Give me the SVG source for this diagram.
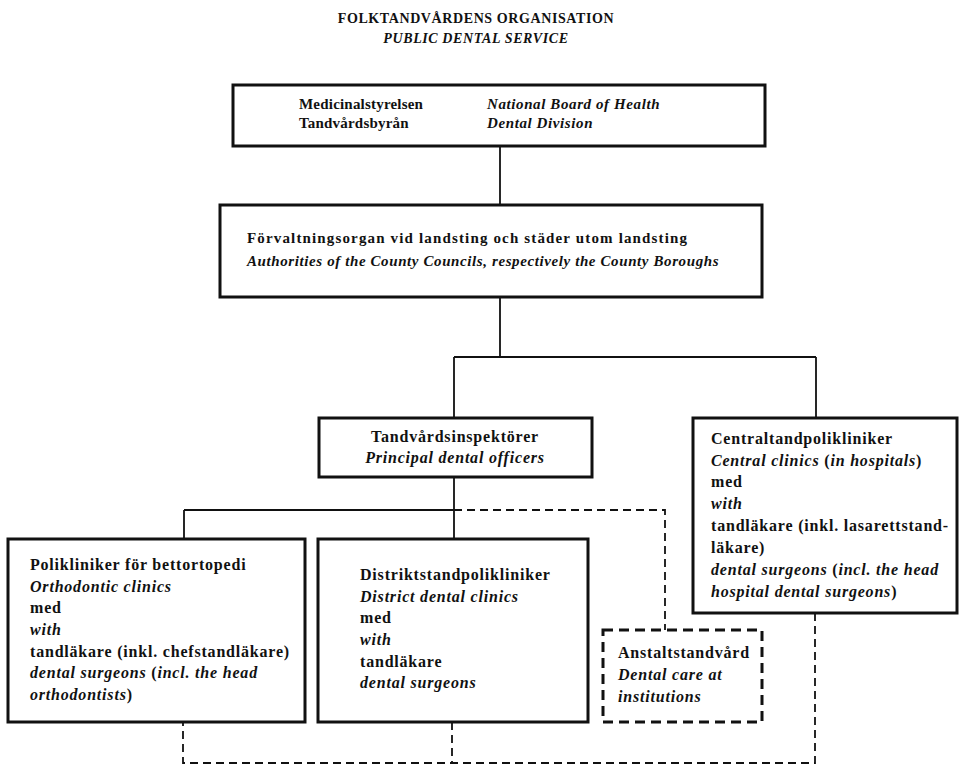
<svg xmlns="http://www.w3.org/2000/svg" width="959" height="767" viewBox="0 0 959 767">
<style>
text{font-family:"Liberation Serif","Times New Roman",serif;font-size:16px;font-weight:bold;fill:#111;letter-spacing:0.8px}
.i{font-style:italic}
.t{font-size:14px;letter-spacing:0.6px}
.c{text-anchor:middle}
.b1{font-size:15px;letter-spacing:0.2px}
.b1i{font-size:15px;letter-spacing:0.6px;font-style:italic}
.b2{font-size:15px;letter-spacing:1.15px}
.b2i{font-size:15px;letter-spacing:0.6px;font-style:italic}
.box{fill:#fff;stroke:#111;stroke-width:3}
.dbox{fill:#fff;stroke:#111;stroke-width:3;stroke-dasharray:10 6}
.ln{fill:none;stroke:#111;stroke-width:1.8}
.dl{fill:none;stroke:#111;stroke-width:1.8;stroke-dasharray:8 5}
</style>
<rect width="959" height="767" fill="#fff"/>
<g id="title">
<text class="t c" x="476" y="23">FOLKTANDVÅRDENS ORGANISATION</text>
<text class="t c i" x="476" y="43">PUBLIC DENTAL SERVICE</text>
</g>
<g id="connectors">
<path class="ln" d="M500 146V205"/>
<path class="ln" d="M500 297V357M454 357H816M454 357V418M816 357V418"/>
<path class="ln" d="M454 477V539M184 510H454M184 510V539"/>
<path class="dl" d="M454 510H665V630"/>
<path class="dl" d="M815 613V763H183V722M452 722V763"/>
</g>
<g id="medicinalstyrelsen">
<rect class="box" x="233" y="85" width="532" height="61"/>
<text class="b1" x="299" y="109">Medicinalstyrelsen</text>
<text class="b1" x="299" y="128">Tandvårdsbyrån</text>
<text class="b1i" x="487" y="109">National Board of Health</text>
<text class="b1i" x="487" y="128">Dental Division</text>
</g>
<g id="forvaltningsorgan">
<rect class="box" x="220" y="205" width="542" height="92"/>
<text class="b2" x="247" y="243">Förvaltningsorgan vid landsting och städer utom landsting</text>
<text class="b2i" x="247" y="266">Authorities of the County Councils, respectively the County Boroughs</text>
</g>
<g id="tandvardsinspektorer">
<rect class="box" x="319" y="418" width="273" height="59"/>
<text class="c" x="455" y="442">Tandvårdsinspektörer</text>
<text class="c i" x="455" y="463">Principal dental officers</text>
</g>
<g id="centraltandpolikliniker">
<rect class="box" x="693" y="418" width="264" height="195"/>
<text x="711" y="444">Centraltandpolikliniker</text>
<text x="711" y="466"><tspan class="i">Central clinics</tspan> (<tspan class="i">in hospitals</tspan>)</text>
<text x="711" y="487">med</text>
<text class="i" x="711" y="509">with</text>
<text x="711" y="531">tandläkare (inkl. lasarettstand-</text>
<text x="711" y="553">läkare)</text>
<text x="711" y="575"><tspan class="i">dental surgeons</tspan> (<tspan class="i">incl. the head</tspan></text>
<text x="711" y="597"><tspan class="i">hospital dental surgeons</tspan>)</text>
</g>
<g id="polikliniker">
<rect class="box" x="8" y="539" width="297" height="183"/>
<text x="30" y="570">Polikliniker för bettortopedi</text>
<text class="i" x="30" y="592">Orthodontic clinics</text>
<text x="30" y="613">med</text>
<text class="i" x="30" y="635">with</text>
<text x="30" y="657">tandläkare (inkl. chefstandläkare)</text>
<text x="30" y="678"><tspan class="i">dental surgeons</tspan> (<tspan class="i">incl. the head</tspan></text>
<text x="30" y="700"><tspan class="i">orthodontists</tspan>)</text>
</g>
<g id="distriktstandpolikliniker">
<rect class="box" x="318" y="539" width="270" height="183"/>
<text x="360" y="580">Distriktstandpolikliniker</text>
<text class="i" x="360" y="602">District dental clinics</text>
<text x="360" y="623">med</text>
<text class="i" x="360" y="645">with</text>
<text x="360" y="667">tandläkare</text>
<text class="i" x="360" y="688">dental surgeons</text>
</g>
<g id="anstaltstandvard">
<rect class="dbox" x="603" y="630" width="159" height="92"/>
<text x="618" y="658">Anstaltstandvård</text>
<text class="i" x="618" y="680">Dental care at</text>
<text class="i" x="618" y="702">institutions</text>
</g>
</svg>
